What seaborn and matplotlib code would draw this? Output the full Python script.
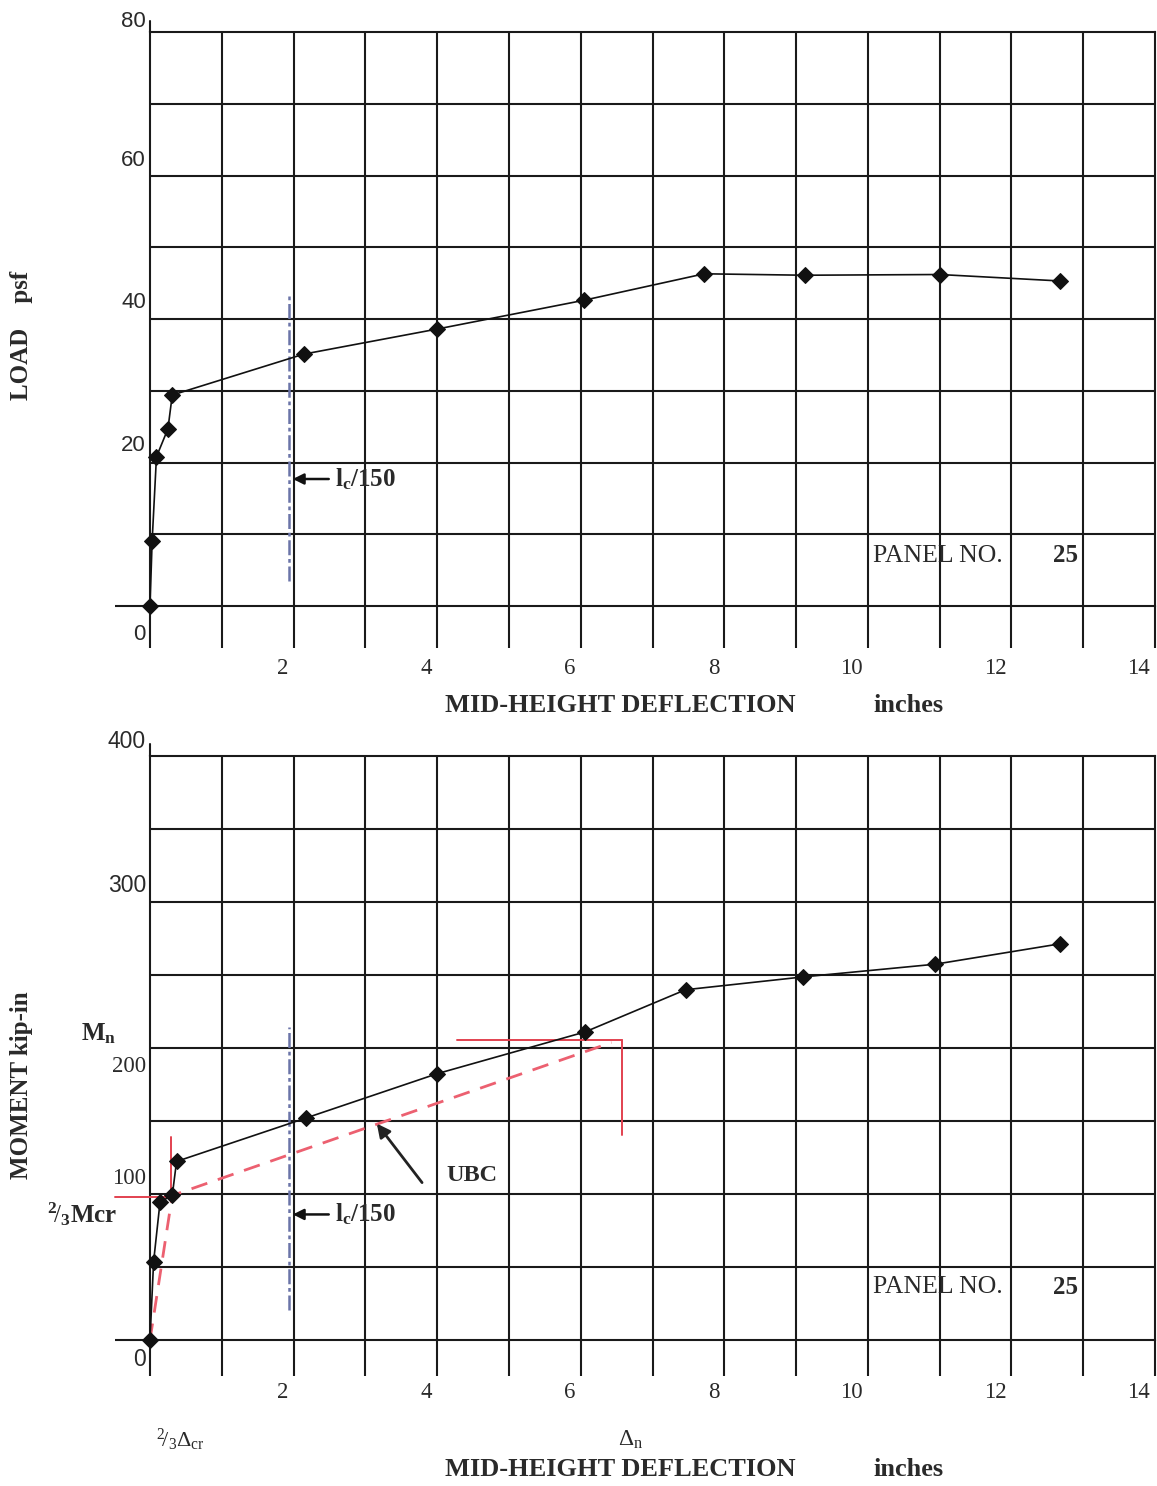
import matplotlib
matplotlib.use("Agg")
import matplotlib.pyplot as plt
import numpy as np
import pandas as pd
import seaborn as sns

# ---------------- data ----------------
x_tick_values = [2, 4, 6, 8, 10, 12, 14]
x_tick_labels = ["2", "4", "6", "8", "10", "12", "14"]
load_tick_values = [0, 20, 40, 60, 80]
load_tick_labels = ["0", "20", "40", "60", "80"]
moment_tick_values = [0, 100, 200, 300, 400]
moment_tick_labels = ["0", "100", "200", "300", "400"]

defl_load = [0.0, 0.03, 0.09, 0.25, 0.31, 2.14, 4.0, 6.04, 7.72, 9.12, 11.0, 12.68]
load_psf = [0.0, 9.1, 20.8, 24.7, 29.4, 35.1, 38.6, 42.6, 46.3, 46.1, 46.2, 45.3]

defl_moment = [0.0, 0.05, 0.14, 0.31, 0.37, 2.17, 4.0, 6.06, 7.46, 9.10, 10.94, 12.67]
moment_kipin = [0.0, 53.6, 94.6, 99.0, 122.3, 152.0, 182.4, 211.0, 239.9, 248.7, 257.4, 271.3]

ubc_defl = [0.0, 0.31, 6.43]
ubc_moment = [0.0, 99.0, 203.8]

mcr_two_thirds = 98.0
defl_cr_two_thirds = 0.29
mn_value = 205.7
defl_n = 6.57

lc150_defl = 1.94
lc150_load_span = [3.5, 43.5]
lc150_moment_span = [20.3, 214.6]

panel_no = "25"

# ---------------- style ----------------
sns.set_style("white")
plt.rcParams['font.family'] = ['Liberation Serif', 'DejaVu Serif']
plt.rcParams['mathtext.fontset'] = 'custom'
plt.rcParams['mathtext.rm'] = 'Liberation Serif'
plt.rcParams['mathtext.bf'] = 'Liberation Serif:bold'
plt.rcParams['mathtext.it'] = 'Liberation Serif:italic'

GRID = '#1a1a1a'
TXT = '#2a2a2a'
RED = '#e2414f'
RED_DASH = '#ec6070'
BLUE = '#6a74a8'
PX = 72 / 100.0  # px -> pt

W, H = 1157, 1486
fig = plt.figure(figsize=(W / 100, H / 100), dpi=100)
ax1 = fig.add_axes([150 / W, 1 - 606 / H, 1005 / W, 574 / H])
ax2 = fig.add_axes([150 / W, 1 - 1340 / H, 1005 / W, 584 / H])

# ---------------- data series ----------------
df_load = pd.DataFrame({'deflection': defl_load, 'load': load_psf})
df_mom = pd.DataFrame({'deflection': defl_moment, 'moment': moment_kipin})

sns.lineplot(data=df_load, x='deflection', y='load', ax=ax1, sort=False,
             estimator=None, color='#111111', lw=1.2, marker='D', markersize=8,
             markeredgecolor='#111111', markerfacecolor='#111111', zorder=6,
             clip_on=False)
sns.lineplot(data=df_mom, x='deflection', y='moment', ax=ax2, sort=False,
             estimator=None, color='#111111', lw=1.2, marker='D', markersize=8,
             markeredgecolor='#111111', markerfacecolor='#111111', zorder=6,
             clip_on=False)

# UBC idealised curve
sns.lineplot(x=ubc_defl, y=ubc_moment, ax=ax2, sort=False, estimator=None,
             color=RED_DASH, lw=2.0, linestyle=(0, (6, 4)), zorder=5)


def style_axes(ax, ymax, ystep, tick_len_px):
    ax.set_xlim(0, 14)
    ax.set_ylim(0, ymax)
    for xv in range(1, 14):
        ax.axvline(xv, color=GRID, lw=1.5, zorder=1)
    for yv in np.arange(ystep, ymax, ystep):
        ax.axhline(yv, color=GRID, lw=1.5, zorder=1)
    for s in ax.spines.values():
        s.set_visible(True)
        s.set_color(GRID)
        s.set_linewidth(1.5)
    ax.set_xticks(range(15))
    ax.set_xticklabels([])
    ax.set_yticks([0])
    ax.set_yticklabels([])
    ax.tick_params(axis='x', bottom=True, length=tick_len_px * PX, width=1.5,
                   color=GRID, direction='out')
    ax.tick_params(axis='y', left=True, length=35 * PX, width=1.5,
                   color=GRID, direction='out')
    ax.set_xlabel('')
    ax.set_ylabel('')
    # left axis sticks out slightly above the top frame
    ax.plot([0, 0], [ymax, ymax * 1.02], color=GRID, lw=1.5, clip_on=False)


style_axes(ax1, 80, 10, 42)
style_axes(ax2, 400, 50, 36)

# x tick labels
for ax, dy in ((ax1, 62), (ax2, 52)):
    for v, lab in zip(x_tick_values, x_tick_labels):
        ax.annotate(lab, xy=(v, 0), xycoords='data', xytext=(-5 * PX, -dy * PX),
                    textcoords='offset points', ha='right', va='center',
                    fontsize=16.5, color=TXT, annotation_clip=False)

# y tick labels
load_offsets = [-28, 17, 17, 15, 11]
for v, lab, off in zip(load_tick_values, load_tick_labels, load_offsets):
    ax1.annotate(lab, xy=(0, v), xycoords='data', xytext=(-4 * PX, off * PX),
                 textcoords='offset points', ha='right', va='center',
                 fontsize=16, color=TXT, family='Liberation Sans', annotation_clip=False)

moment_offsets = [-19, 16, -19, 17, 14]
moment_fams = ['Liberation Sans', 'Liberation Serif', 'Liberation Serif',
               'Liberation Sans', 'Liberation Sans']
for v, lab, off, fam in zip(moment_tick_values, moment_tick_labels, moment_offsets, moment_fams):
    ax2.annotate(lab, xy=(0, v), xycoords='data', xytext=(-4 * PX, off * PX),
                 textcoords='offset points', ha='right', va='center',
                 fontsize=16.5, color=TXT, family=fam, annotation_clip=False)

# red reference lines
ax2.plot([-0.49, 0.37], [mcr_two_thirds, mcr_two_thirds], color=RED, lw=1.4,
         clip_on=False, zorder=4)
ax2.plot([defl_cr_two_thirds, defl_cr_two_thirds], [95, 139], color=RED, lw=1.4, zorder=4)
ax2.plot([4.27, defl_n], [mn_value, mn_value], color=RED, lw=1.4, zorder=4)
ax2.plot([defl_n, defl_n], [140.6, mn_value], color=RED, lw=1.4, zorder=4)

# lc/150 lines
ax1.plot([lc150_defl, lc150_defl], lc150_load_span, color=BLUE, lw=1.8,
         linestyle=(0, (6, 1.5, 1.5, 1.5)), zorder=3)
ax2.plot([lc150_defl, lc150_defl], lc150_moment_span, color=BLUE, lw=1.8,
         linestyle=(0, (6, 1.5, 1.5, 1.5)), zorder=3)

arrow_kw = dict(arrowstyle='-|>', color='#111111', lw=1.8, mutation_scale=16,
                shrinkA=0, shrinkB=0)
lc_text = r'$\mathbf{l}_{\mathbf{c}}\mathbf{/150}$'
ax1.annotate('', xy=(1.99, 17.7), xytext=(2.49, 17.7), arrowprops=arrow_kw, zorder=7)
ax1.text(2.58, 17.7, lc_text, fontsize=18, color=TXT, ha='left', va='center')
ax2.annotate('', xy=(1.99, 86.0), xytext=(2.49, 86.0), arrowprops=arrow_kw, zorder=7)
ax2.text(2.58, 86.0, lc_text, fontsize=18, color=TXT, ha='left', va='center')

# UBC label
ax2.annotate('', xy=(3.16, 148.2), xytext=(3.79, 107.8), arrowprops=dict(
    arrowstyle='-|>', color='#222222', lw=2.0, mutation_scale=20, shrinkA=0, shrinkB=0),
    zorder=7)
ax2.text(4.13, 113.0, 'UBC', fontsize=17.5, fontweight='bold', color=TXT,
         ha='left', va='center')

# panel numbers
for ax, yv in ((ax1, 7.0), (ax2, 36.0)):
    ax.text(10.07, yv, 'PANEL NO.', fontsize=18.5, color=TXT, ha='left', va='center')
    ax.text(12.58, yv, panel_no, fontsize=18, fontweight='bold', color=TXT,
            ha='left', va='center')

# side annotations on moment plot
ax2.text(-0.72, 209.5, r'$\mathbf{M}_{\mathbf{n}}$', fontsize=18, color=TXT,
         ha='center', va='center')
ax2.text(-0.95, 86.0, r'$^{\mathbf{2}}\!/_{\mathbf{3}}\mathbf{Mcr}$', fontsize=18,
         color=TXT, ha='center', va='center')
ax2.text(0.42, -0.171, r'$^{2}\!/_{3}\Delta_{\mathrm{cr}}$', fontsize=16, color=TXT,
         ha='center', va='center', transform=ax2.get_xaxis_transform())
ax2.text(6.69, -0.171, r'$\Delta_{\mathrm{n}}$', fontsize=17, color=TXT,
         ha='center', va='center', transform=ax2.get_xaxis_transform())

# axis titles
for ax, ylab_axes in ((ax1, -0.174), (ax2, -0.2226)):
    ax.text((620 - 150) / 1005, ylab_axes, 'MID-HEIGHT DEFLECTION', fontsize=19,
            fontweight='bold', color=TXT, ha='center', va='center', transform=ax.transAxes)
    ax.text((908 - 150) / 1005, ylab_axes, 'inches', fontsize=19,
            fontweight='bold', color=TXT, ha='center', va='center', transform=ax.transAxes)

fig.text(22 / W, 1 - 335 / H, 'LOAD    psf', rotation=90, fontsize=18,
         fontweight='bold', color=TXT, ha='center', va='center')
fig.text(22 / W, 1 - 1085 / H, 'MOMENT kip-in', rotation=90, fontsize=18,
         fontweight='bold', color=TXT, ha='center', va='center')

fig.savefig('out.png', dpi=100)
